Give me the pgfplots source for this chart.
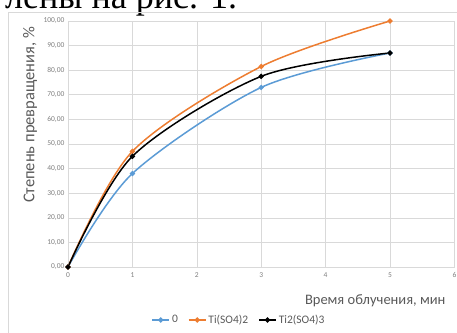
\documentclass[border=0pt]{standalone}
\usepackage{fontspec}
\setmainfont{Carlito}
\newfontfamily\serifcyr{Liberation Serif}
\usepackage{pgfplots}
\pgfplotsset{compat=1.18}
\definecolor{cblue}{HTML}{5B9BD5}
\definecolor{corange}{HTML}{ED7D31}
\definecolor{cgrid}{HTML}{D9D9D9}
\definecolor{ctick}{HTML}{7F7F7F}
\definecolor{clabel}{HTML}{595959}
\begin{document}
\begin{tikzpicture}[x=1pt,y=1pt]
\useasboundingbox (0,0) rectangle (457,332);
\clip (0,0) rectangle (457,332);
\node[anchor=base west, inner sep=0, font=\serifcyr\fontsize{36}{40}\selectfont] at (5,323) {лены на рис. 1.};
\draw[cgrid, line width=0.8pt] (8.5,-5) -- (8.5,319.5) -- (470,319.5);
\begin{axis}[
  at={(68pt,65pt)}, anchor=south west,
  scale only axis, width=386.4pt, height=246pt,
  xmin=0, xmax=6, ymin=0, ymax=100,
  xtick={0,1,...,6}, ytick={0,10,...,100},
  grid=major, grid style={cgrid, line width=0.6pt},
  axis line style={cgrid, line width=0.6pt},
  major tick length=0pt,
  clip=false,
  ticklabel style={font=\fontsize{7.5}{8}\selectfont, text=ctick},
  /pgf/number format/assume math mode=true,
  yticklabel style={/pgf/number format/.cd, fixed, fixed zerofill, precision=2, use comma, 1000 sep={}},
  xticklabel style={yshift=-2pt},
  legend columns=3,
  legend style={at={(0.4425,-0.2154)}, anchor=center, draw=none, fill=none,
    font=\fontsize{11.5}{12}\selectfont, text=clabel,
    /tikz/every even column/.append style={column sep=8pt}},
]
\addplot[cblue, line width=1.5pt, smooth, mark=*, mark size=1.8pt] coordinates {(0,0)(1,38)(3,73)(5,87)};
\addlegendentry{0}
\addplot[corange, line width=1.5pt, smooth, mark=*, mark size=1.8pt] coordinates {(0,0)(1,47)(3,81.5)(5,100)};
\addlegendentry{Ti(SO4)2}
\addplot[black, line width=1.5pt, smooth, mark=*, mark size=1.8pt] coordinates {(0,0)(1,45)(3,77.5)(5,87)};
\addlegendentry{Ti2(SO4)3}
\end{axis}
\node[rotate=90, font=\fontsize{16.5}{18}\selectfont, text=clabel] at (30,217) {Степень превращения, \%};
\node[anchor=east, font=\fontsize{14.5}{16}\selectfont, text=clabel] at (449,31) {Время облучения, мин};
\end{tikzpicture}
\end{document}
